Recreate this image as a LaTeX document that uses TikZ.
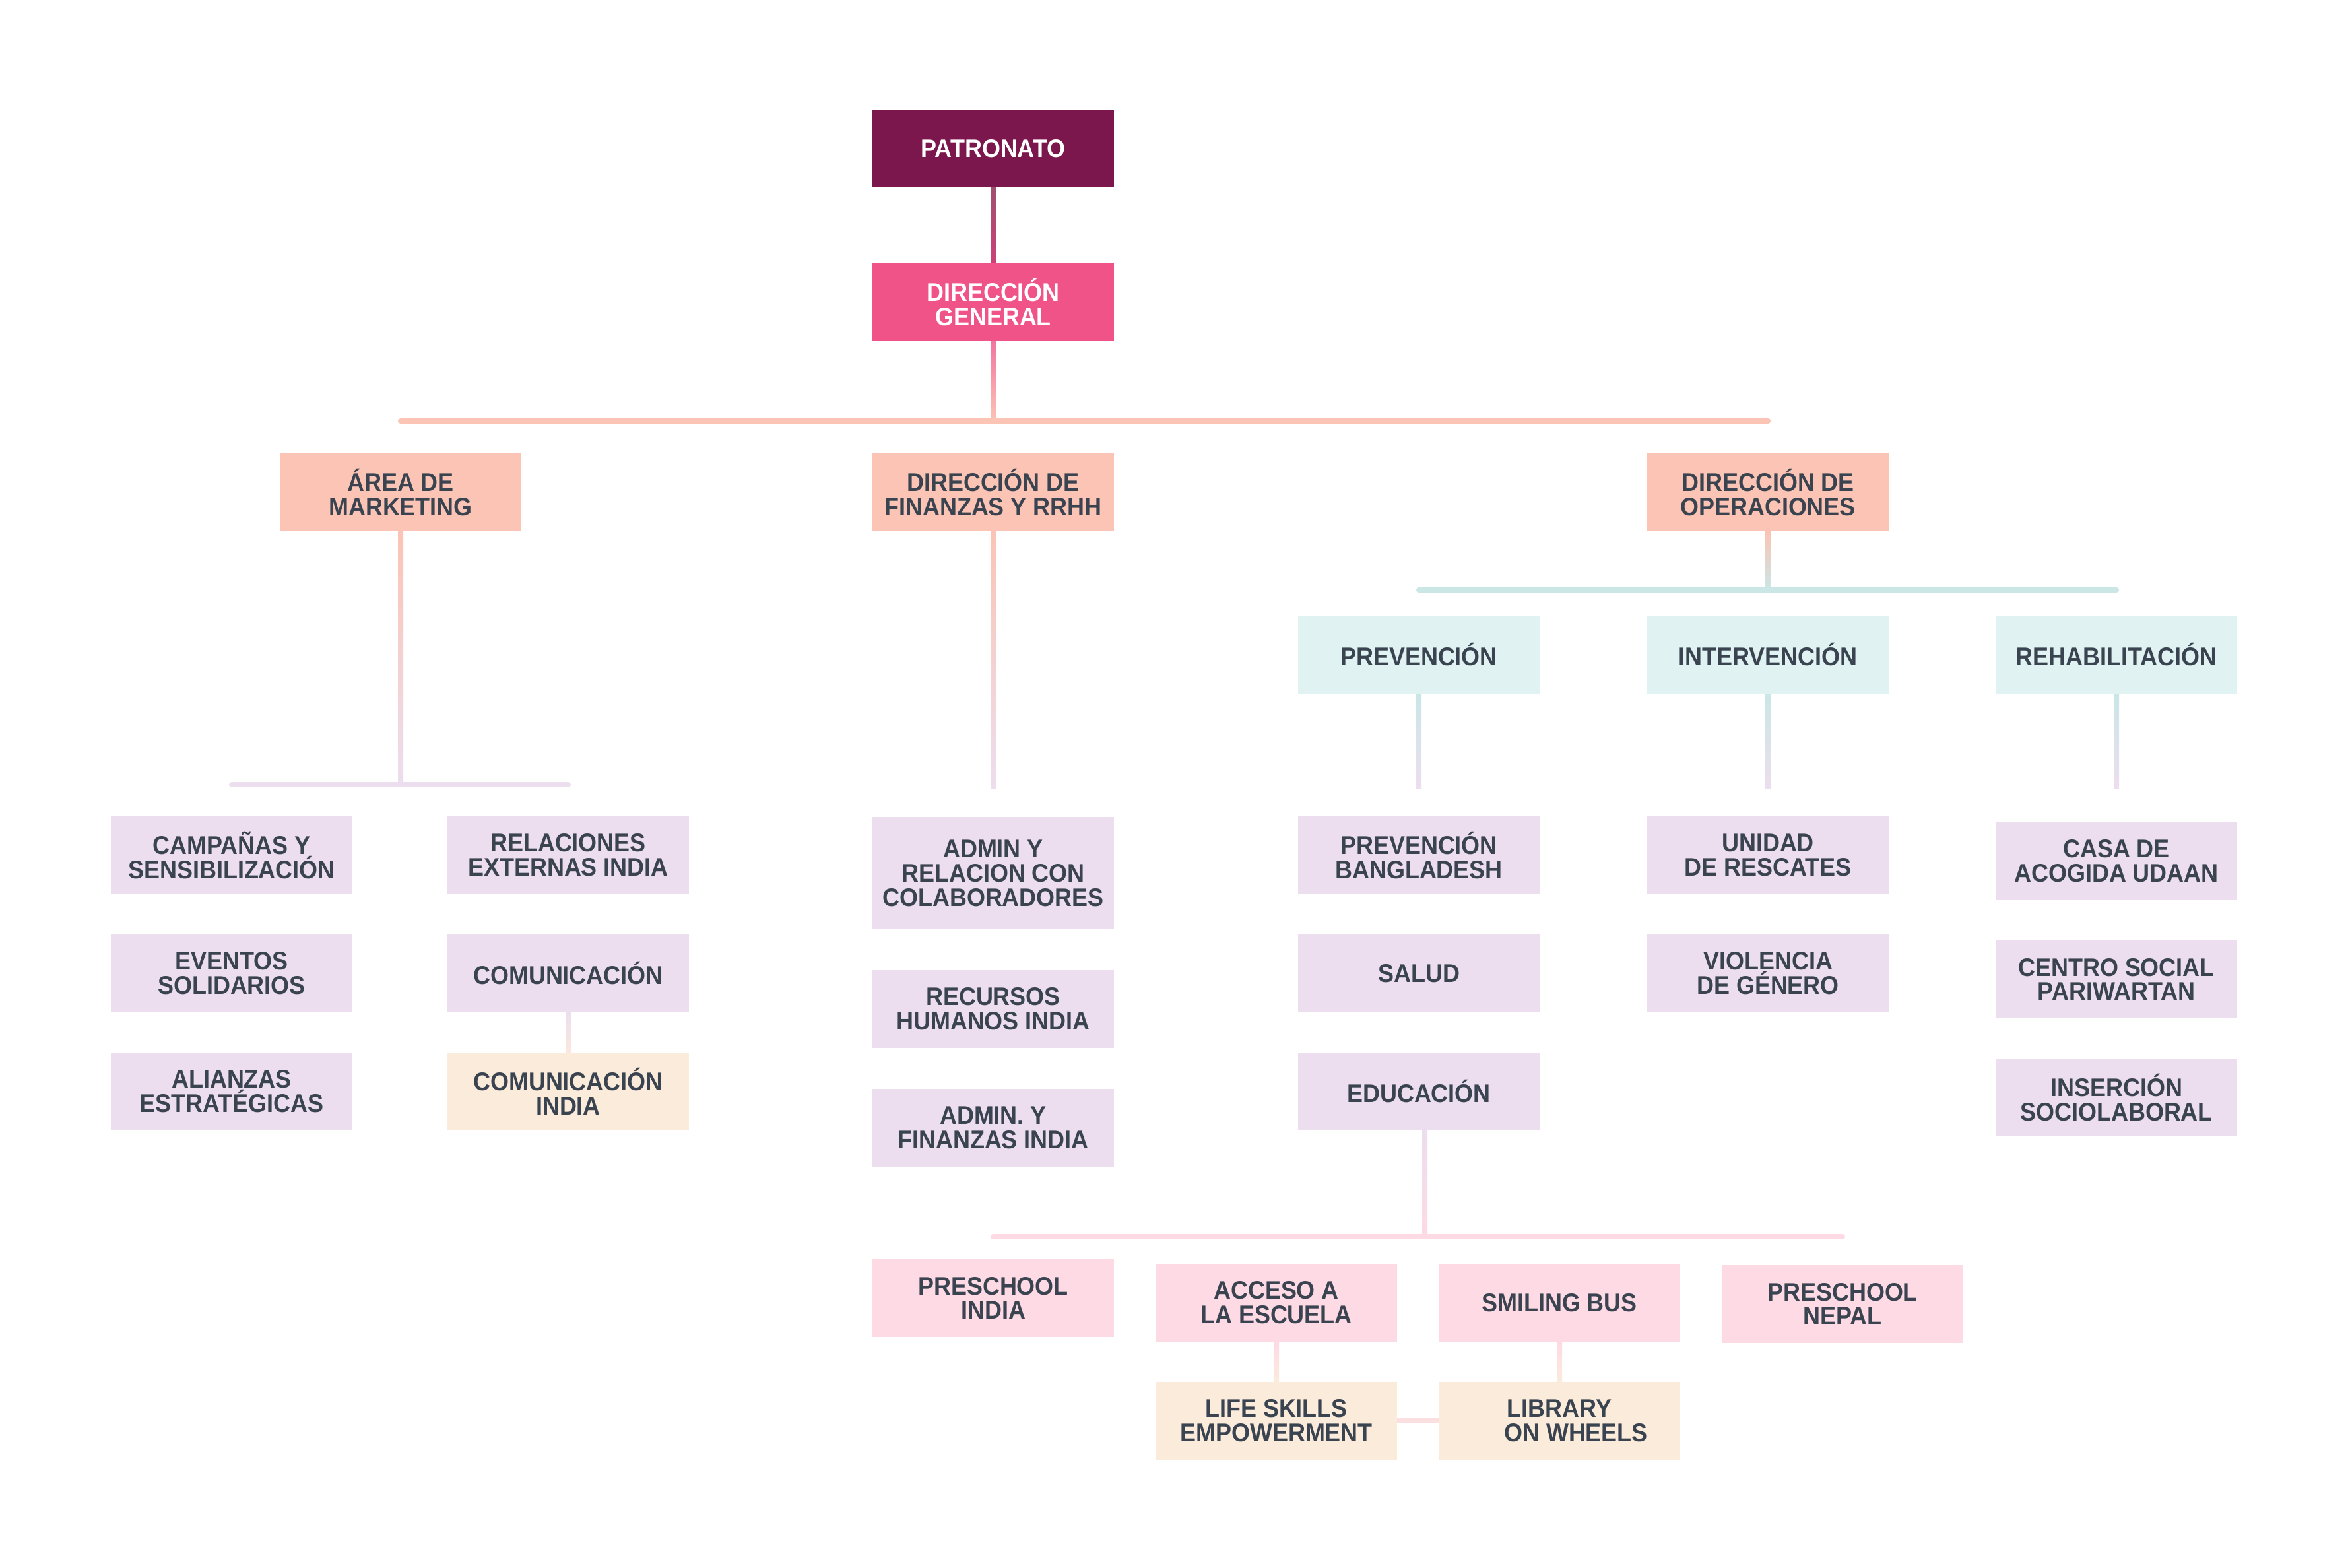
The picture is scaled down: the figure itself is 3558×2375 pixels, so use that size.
\documentclass[tikz,border=0pt]{standalone}
\usepackage{fontspec}
\setmainfont{Liberation Sans}[FakeStretch=0.93]
\usetikzlibrary{calc}
\definecolor{box plum}{HTML}{7B174C}
\definecolor{box rose}{HTML}{EF5388}
\definecolor{box salmon}{HTML}{FBC4B4}
\definecolor{box mint}{HTML}{E0F2F1}
\definecolor{box lilac}{HTML}{ECDEEE}
\definecolor{box blush}{HTML}{FDDAE4}
\definecolor{box cream}{HTML}{FBEBDB}
\definecolor{ink}{HTML}{3A4350}
\definecolor{wire wine}{HTML}{A0506F}
\colorlet{wire mint}{box mint!90!teal}
\def\gradlink#1#2#3#4{\shade[top color=#3, bottom color=#4] ($(#1)+(-4,0)$) rectangle ($(#2)+(4,0)$);}
\tikzset{unit/.style={rectangle, minimum width=3.65cm, minimum height=1.17cm, inner sep=0pt,
        align=center, text=ink, font=\bfseries\fontsize{11}{10.5}\selectfont},
    topbox/.style={unit, fill=box plum, text=white},
    dirbox/.style={unit, fill=box rose, text=white},
    headbox/.style={unit, fill=box salmon},
    opsbox/.style={unit, fill=box mint},
    lilacbox/.style={unit, fill=box lilac},
    blushbox/.style={unit, fill=box blush},
    creambox/.style={unit, fill=box cream},
    bar/.style={line width=0.08cm, line cap=round}}

\begin{document}
\begin{tikzpicture}[x=0.01cm, y=0.01cm]
    \fill[white] (0,0) rectangle (3558,2375);
    % top of the tree
    \node[topbox] (pat) at (1505,2150) {PATRONATO};
    \node[dirbox] (dg)  at (1505,1917) {DIRECCIÓN\\GENERAL};
    \node[headbox] (mkt) at (607,1629)  {ÁREA DE\\MARKETING};
    \node[headbox] (fin) at (1505,1629) {DIRECCIÓN DE\\FINANZAS Y RRHH};
    \node[headbox] (ops) at (2679,1629) {DIRECCIÓN DE\\OPERACIONES};
    \coordinate (bar)    at (1505,1737);
    \coordinate (mktbar) at (607,1186);
    \coordinate (opsbar) at (2679,1481);
    \coordinate (stub)   at (1505,1179);
    \coordinate (edubar) at (2159,501);
    % marketing
    \node[lilacbox] (camp) at (351,1079) {CAMPAÑAS Y\\SENSIBILIZACIÓN};
    \node[lilacbox] (even) at (351,900)  {EVENTOS\\SOLIDARIOS};
    \node[lilacbox] (alia) at (351,721)  {ALIANZAS\\ESTRATÉGICAS};
    \node[lilacbox] (rela) at (861,1079) {RELACIONES\\EXTERNAS INDIA};
    \node[lilacbox] (comu) at (861,900)  {COMUNICACIÓN};
    \node[creambox] (comi) at (861,721)  {COMUNICACIÓN\\INDIA};
    % finanzas
    \node[lilacbox, minimum height=1.69cm] (admr) at (1505,1052) {ADMIN Y\\RELACION CON\\COLABORADORES};
    \node[lilacbox] (rrhh) at (1505,846) {RECURSOS\\HUMANOS INDIA};
    \node[lilacbox] (admf) at (1505,666) {ADMIN. Y\\FINANZAS INDIA};
    % operaciones
    \node[opsbox] (prev)  at (2150,1383) {PREVENCIÓN};
    \node[opsbox] (inte)  at (2679,1383) {INTERVENCIÓN};
    \node[opsbox] (rehab) at (3207,1383) {REHABILITACIÓN};
    \node[lilacbox] (bang) at (2150,1079) {PREVENCIÓN\\BANGLADESH};
    \node[lilacbox] (salu) at (2150,900)  {SALUD};
    \node[lilacbox] (educ) at (2150,721)  {EDUCACIÓN};
    \node[lilacbox] (resc) at (2679,1079) {UNIDAD\\DE RESCATES};
    \node[lilacbox] (viol) at (2679,900)  {VIOLENCIA\\DE GÉNERO};
    \node[lilacbox] (casa) at (3207,1070) {CASA DE\\ACOGIDA UDAAN};
    \node[lilacbox] (cent) at (3207,891)  {CENTRO SOCIAL\\PARIWARTAN};
    \node[lilacbox] (inse) at (3207,712)  {INSERCIÓN\\SOCIOLABORAL};
    % educacion
    \node[blushbox] (pind) at (1505,408) {PRESCHOOL\\INDIA};
    \node[blushbox] (acce) at (1934,401) {ACCESO A\\LA ESCUELA};
    \node[blushbox] (smil) at (2363,401) {SMILING BUS};
    \node[blushbox] (pnep) at (2792,399) {PRESCHOOL\\NEPAL};
    \node[creambox] (life) at (1934,222) {LIFE SKILLS\\EMPOWERMENT};
    \node[creambox] (libr) at (2363,222) {LIBRARY\\\hspace*{0.5cm}ON WHEELS};
    % connectors
    \gradlink{pat.south}{dg.north}{wire wine}{box rose!70!box plum}
    \gradlink{dg.south}{bar}{box rose!80!white}{box salmon}
    \draw[bar, box salmon] (mkt |- bar) -- (ops |- bar);
    \gradlink{mkt.south}{mktbar}{box salmon}{box lilac}
    \draw[bar, box lilac] (camp |- mktbar) -- (rela |- mktbar);
    \gradlink{fin.south}{fin |- stub}{box salmon}{box lilac}
    \gradlink{ops.south}{opsbar}{box salmon}{wire mint}
    \draw[bar, wire mint] (prev |- opsbar) -- (rehab |- opsbar);
    \gradlink{prev.south}{prev |- stub}{wire mint}{box lilac}
    \gradlink{inte.south}{inte |- stub}{wire mint}{box lilac}
    \gradlink{rehab.south}{rehab |- stub}{wire mint}{box lilac}
    \gradlink{comu.south}{comi.north}{box lilac}{box cream!80!box blush}
    \gradlink{educ.south -| edubar}{edubar}{box lilac}{box blush}
    \draw[bar, box blush] (pind |- edubar) -- (pnep |- edubar);
    \gradlink{acce.south}{life.north}{box blush}{box cream}
    \gradlink{smil.south}{libr.north}{box blush}{box cream}
    \draw[line width=0.08cm, box blush!70!box cream] (life.east) -- (libr.west);
\end{tikzpicture}
\end{document}
